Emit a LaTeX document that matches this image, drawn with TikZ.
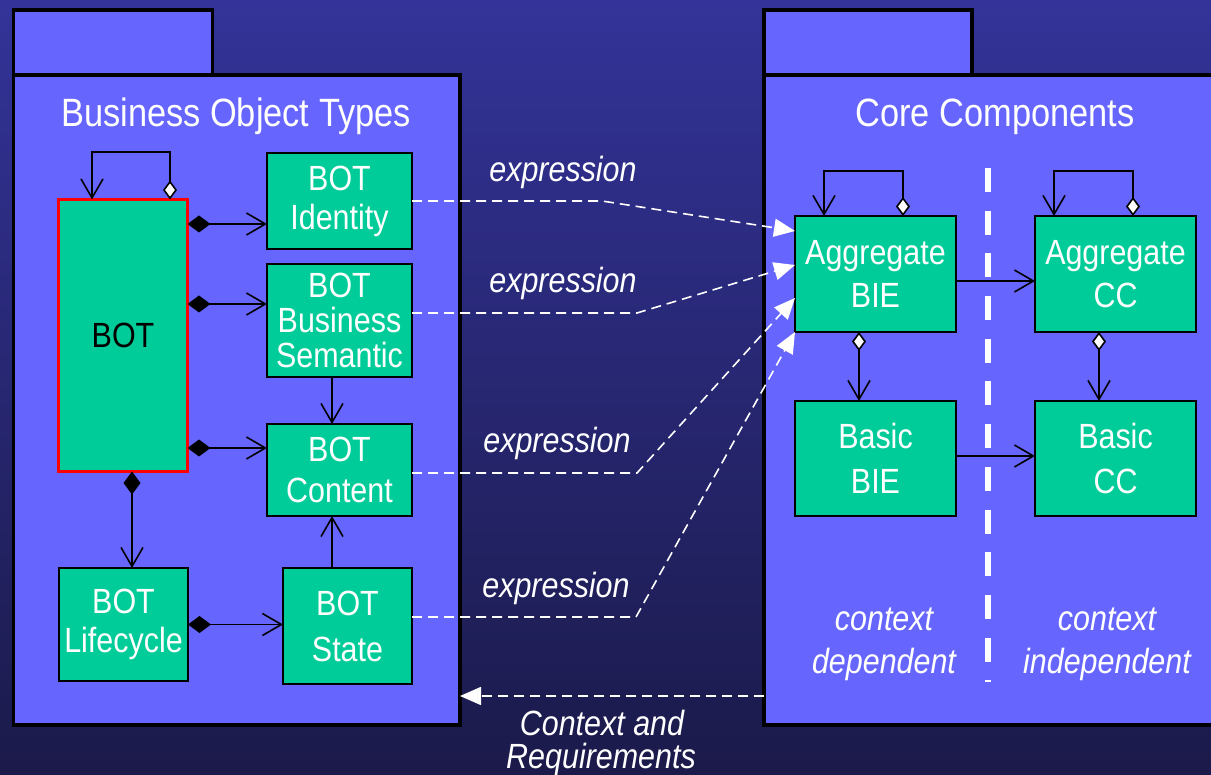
\documentclass[tikz,border=0pt]{standalone}
\usepackage{fontspec}
\setmainfont{Liberation Sans}[FakeStretch=0.87]
\usetikzlibrary{arrows.meta,calc}
\definecolor{bgtop}{RGB}{51,51,153}
\definecolor{bgbot}{RGB}{27,26,74}
\definecolor{pkgfill}{RGB}{102,102,255}
\definecolor{boxfill}{RGB}{0,204,153}
\begin{document}
\begin{tikzpicture}[x=1pt,y=-1pt,
  pkg/.style={draw=black,line width=3.5pt,fill=pkgfill,inner sep=0pt,outer sep=0pt,anchor=north west},
  bx/.style={draw=black,line width=1.5pt,fill=boxfill,text=white,align=center,inner sep=0pt,outer sep=0pt,anchor=north west,font=\fontsize{35pt}{40pt}\selectfont},
  ttl/.style={text=white,anchor=base,inner sep=0pt,font=\fontsize{39.5pt}{44pt}\selectfont},
  lbl/.style={text=white,anchor=base,inner sep=0pt,font=\fontsize{35pt}{40pt}\selectfont\itshape},
  conn/.style={draw=black,line width=1.6pt},
  comp/.style={conn,{Diamond[length=23pt,width=17pt]}-{Straight Barb[length=19pt,width=22pt]}},
  aggr/.style={conn,{Diamond[length=19pt,width=14pt,fill=white]}-{Straight Barb[length=19pt,width=22pt]}},
  assoc/.style={conn,-{Straight Barb[length=19pt,width=22pt]}},
  expr/.style={draw=white,line width=1.6pt,dash pattern=on 10pt off 6pt,-{Triangle[length=21pt,width=18pt]}},
]
\useasboundingbox (0,0) rectangle (1211,775);
\shade[top color=bgtop,bottom color=bgbot] (0,0) rectangle (1211,775);

% packages
\node[pkg,minimum width=199pt,minimum height=65pt] (ltab) at (13.5,10) {};
\node[pkg,minimum width=446.5pt,minimum height=650pt] (lpkg) at (13.5,75) {};
\node[pkg,minimum width=208pt,minimum height=65pt] (rtab) at (764,10) {};
\node[pkg,minimum width=480pt,minimum height=650pt] (rpkg) at (764,75) {};

\node[ttl] (ttl1) at (236,127) {Business Object Types};
\node[ttl] (ttl2) at (995,127) {Core Components};

% divider
\draw[white,line width=6pt,dash pattern=on 24pt off 18.7pt] (988,168) -- (988,682);

% boxes left
\node[bx,draw=red,line width=3.5pt,text=black,minimum width=129pt,minimum height=272pt] (bot) at (58.5,199.5) {BOT};
\node[bx,minimum width=145pt,minimum height=96pt,font=\fontsize{35pt}{39pt}\selectfont] (ident) at (267,153) {BOT\\Identity};
\node[bx,minimum width=145pt,minimum height=113pt,font=\fontsize{35pt}{35pt}\selectfont] (sem) at (267,264) {BOT\\Business\\Semantic};
\node[bx,minimum width=145pt,minimum height=92pt,font=\fontsize{35pt}{41pt}\selectfont] (cont) at (267,424) {BOT\\Content};
\node[bx,minimum width=129pt,minimum height=113pt,font=\fontsize{35pt}{39pt}\selectfont] (life) at (59,568) {BOT\\Lifecycle};
\node[bx,minimum width=129pt,minimum height=116pt,font=\fontsize{35pt}{46pt}\selectfont] (state) at (283,568) {BOT\\State};

% boxes right
\node[bx,minimum width=161pt,minimum height=116pt,font=\fontsize{35pt}{43pt}\selectfont] (aggbie) at (795,216) {Aggregate\\BIE};
\node[bx,minimum width=161pt,minimum height=116pt,font=\fontsize{35pt}{43pt}\selectfont] (aggcc) at (1035,216) {Aggregate\\CC};
\node[bx,minimum width=161pt,minimum height=115pt,font=\fontsize{35pt}{45pt}\selectfont] (basbie) at (795,401) {Basic\\BIE};
\node[bx,minimum width=161pt,minimum height=115pt,font=\fontsize{35pt}{45pt}\selectfont] (bascc) at (1035,401) {Basic\\CC};

% left connectors
\draw[aggr] ($(bot.north west)+(111.5,0)$) -- ++(0,-47.5) -| ($(bot.north west)+(33.5,0)$);
\coordinate (c1) at ($(bot.north east)+(0,24.5)$);
\coordinate (c2) at ($(bot.north east)+(0,104.5)$);
\coordinate (c3) at ($(bot.north east)+(0,248.5)$);
\draw[comp] (c1) -- (c1 -| ident.west);
\draw[comp] (c2) -- (c2 -| sem.west);
\draw[comp] (c3) -- (c3 -| cont.west);
\coordinate (c4) at ($(bot.south west)+(73.5,0)$);
\draw[comp] (c4) -- (c4 |- life.north);
\draw[comp] (life.east) -- (life.east -| state.west);
\coordinate (c5) at ($(sem.south west)+(65,0)$);
\draw[assoc] (c5) -- (c5 |- cont.north);
\coordinate (c6) at ($(state.north west)+(49,0)$);
\draw[assoc] (c6) -- (c6 |- cont.south);

% right connectors
\draw[aggr] ($(aggbie.north west)+(108,0)$) -- ++(0,-45) -| ($(aggbie.north west)+(29,0)$);
\draw[aggr] ($(aggcc.north west)+(98,0)$) -- ++(0,-45) -| ($(aggcc.north west)+(19,0)$);
\coordinate (c7) at ($(aggbie.north east)+(0,65)$);
\draw[assoc] (c7) -- (c7 -| aggcc.west);
\coordinate (c8) at ($(basbie.north east)+(0,55)$);
\draw[assoc] (c8) -- (c8 -| bascc.west);
\coordinate (c9) at ($(aggbie.south west)+(64,0)$);
\draw[aggr] (c9) -- (c9 |- basbie.north);
\coordinate (c10) at ($(aggcc.south west)+(64,0)$);
\draw[aggr] (c10) -- (c10 |- bascc.north);

% expression arrows
\draw[expr] (ident.east) -- ($(ident.east)+(190,0)$) -- ($(aggbie.north west)+(0,15)$);
\coordinate (e2) at ($(sem.north east)+(0,49)$);
\draw[expr] (e2) -- ++(225,0) -- ($(aggbie.north west)+(0,49)$);
\coordinate (e3) at ($(cont.north east)+(0,49)$);
\draw[expr] (e3) -- ++(225,0) -- ($(aggbie.north west)+(0,82)$);
\coordinate (e4) at ($(state.north east)+(0,49)$);
\draw[expr] (e4) -- ++(224,0) -- (aggbie.south west);

% context arrow
\coordinate (cs) at ($(rpkg.south west)+(0,-29)$);
\draw[expr] (cs) -- (cs -| lpkg.east);

% labels
\node[lbl] (x1) at (563,182) {expression};
\node[lbl] (x2) at (563,293) {expression};
\node[lbl] (x3) at (557,453) {expression};
\node[lbl] (x4) at (556,597) {expression};
\node[lbl] (cd1) at (884,630) {context};
\node[lbl] (cd2) at (884,673) {dependent};
\node[lbl] (ci1) at (1107,630) {context};
\node[lbl] (ci2) at (1107,673) {independent};
\node[lbl] (cr1) at (602,735) {Context and};
\node[lbl] (cr2) at (601,768) {Requirements};
\end{tikzpicture}
\end{document}
